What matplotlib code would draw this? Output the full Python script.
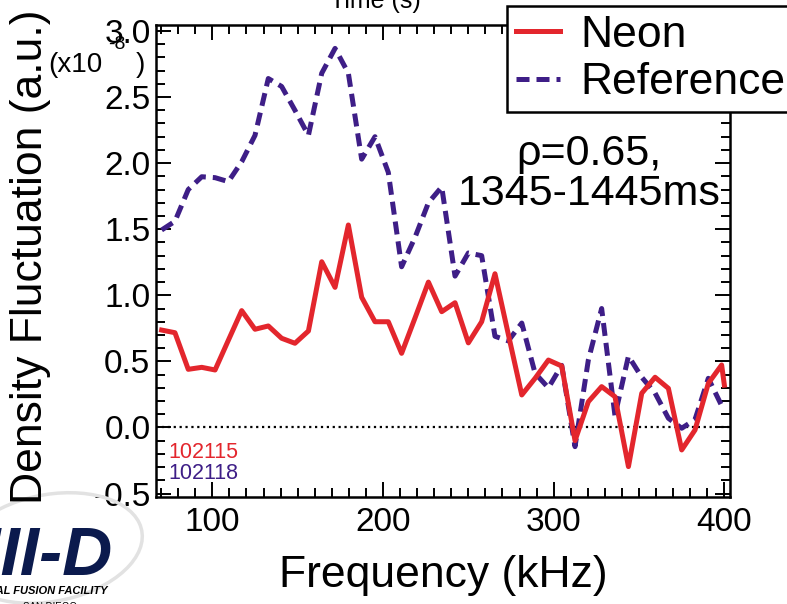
import matplotlib
matplotlib.use('Agg')
import matplotlib.pyplot as plt
from matplotlib.ticker import MultipleLocator, FormatStrFormatter
from matplotlib.patches import Ellipse

plt.rcParams['font.family'] = ['Liberation Sans', 'DejaVu Sans']
plt.rcParams['axes.unicode_minus'] = False

# spectrum frequencies (kHz)
freq = [70.3, 78.1, 85.9, 93.8, 101.6, 109.4, 117.2, 125.0, 132.8, 140.6,
        148.4, 156.3, 164.1, 171.9, 179.7, 187.5, 195.3, 203.1, 210.9, 218.8,
        226.6, 234.4, 242.2, 250.0, 257.8, 265.6, 273.4, 281.3, 289.1, 296.9,
        304.7, 312.5, 320.3, 328.1, 335.9, 343.8, 351.6, 359.4, 367.2, 375.0,
        382.8, 390.6, 398.4]
neon_freq = freq + [400.0]

# density fluctuation (x1e-8 a.u.)
neon = [0.737, 0.717, 0.44, 0.455, 0.435, 0.66, 0.884, 0.743, 0.768, 0.675,
        0.637, 0.73, 1.254, 1.06, 1.532, 0.985, 0.80, 0.80, 0.561, 0.83,
        1.10, 0.876, 0.944, 0.64, 0.80, 1.163, 0.706, 0.246, 0.372, 0.51,
        0.465, -0.10, 0.195, 0.309, 0.233, -0.296, 0.259, 0.38, 0.296, -0.17,
        -0.019, 0.334, 0.473, 0.32]
reference = [1.494, 1.56, 1.80, 1.897, 1.89, 1.86, 2.01, 2.21, 2.64, 2.58,
             2.40, 2.21, 2.68, 2.868, 2.68, 2.03, 2.20, 1.93, 1.216, 1.44,
             1.70, 1.82, 1.145, 1.32, 1.30, 0.69, 0.655, 0.79, 0.41, 0.30,
             0.47, -0.145, 0.51, 0.90, 0.09, 0.54, 0.38, 0.26, 0.07, -0.006,
             0.06, 0.372, 0.165]

red = '#e3262d'
purple = '#3e1e87'
W, H = 787, 604

fig = plt.figure(figsize=(W / 100, H / 100), dpi=100)
ax = fig.add_axes([156 / W, 1 - 497 / H, (730 - 156) / W, (497 - 25) / H])

ax.axhline(0, color='k', ls=':', lw=1.6, zorder=1)
ln1, = ax.plot(neon_freq, neon, color=red, lw=3.6, zorder=3, label='Neon')
ln2, = ax.plot(freq, reference, color=purple, lw=3.6, dashes=(2.6, 1.4),
               zorder=2, label='Reference')

ax.set_xlim(67, 403.3)
ax.set_ylim(-0.526, 3.045)
ax.xaxis.set_major_locator(MultipleLocator(100))
ax.xaxis.set_minor_locator(MultipleLocator(10))
ax.yaxis.set_major_locator(MultipleLocator(0.5))
ax.yaxis.set_minor_locator(MultipleLocator(0.1))
ax.yaxis.set_major_formatter(FormatStrFormatter('%.1f'))
ax.tick_params(which='both', direction='in', top=True, right=True,
               width=1.4, labelsize=24)
ax.tick_params(which='major', length=11)
ax.tick_params(which='minor', length=6.5)
ax.tick_params(axis='x', pad=7)
ax.tick_params(axis='y', pad=4)
for s in ax.spines.values():
    s.set_linewidth(1.8)

ax.set_xlabel('Frequency (kHz)', fontsize=32)
ax.xaxis.set_label_coords(0.5, -0.122)
fig.text(31 / W, 1 - 257 / H, 'Density Fluctuation (a.u.)', fontsize=32,
         rotation=90, ha='center', va='center')

# exponent note
fig.text(48 / W, 1 - 72 / H, '(x10', fontsize=20, ha='left', va='baseline')
fig.text(108 / W, 1 - 49 / H, '-8', fontsize=14, ha='left', va='baseline')
fig.text(136 / W, 1 - 72 / H, ')', fontsize=20, ha='left', va='baseline')

# cut-off title from the slide
fig.text(375 / W, 1 - 8 / H, 'Time (s)', fontsize=18, ha='center', va='baseline')

ax.text(0.754, 0.685, 'ρ=0.65,\n1345-1445ms', fontsize=31,
        ha='center', va='center', linespacing=1.0, transform=ax.transAxes)
fig.text(168 / W, 1 - 458 / H, '102115', color=red, fontsize=15.5)
fig.text(168 / W, 1 - 479 / H, '102118', color=purple, fontsize=15.5)

leg = fig.legend([ln1, ln2], ['Neon', 'Reference'], loc='upper left',
                 bbox_to_anchor=(507 / W, 1 - 6 / H), fontsize=32,
                 frameon=True, fancybox=False, edgecolor='k', framealpha=1,
                 borderpad=0.2, handlelength=1.0, handletextpad=0.45,
                 labelspacing=0.14, borderaxespad=0)
leg.get_frame().set_linewidth(1.8)

# DIII-D logo (partly off the slide)
fig.patches.append(Ellipse((50 / W, 1 - 548 / H), 190 / W, 105 / H, angle=20,
                           fill=False, edgecolor='#e2e2e2', lw=2.5,
                           transform=fig.transFigure, zorder=0))
fig.text(113 / W, 1 - 575 / H, 'DIII-D', fontsize=50, fontweight='bold',
         fontstyle='italic', color='#0b1a4d', ha='right', va='baseline')
fig.text(107 / W, 1 - 594 / H, 'NATIONAL FUSION FACILITY', fontsize=8,
         fontweight='bold', fontstyle='italic', ha='right', va='baseline')
fig.text(50 / W, 1 - 610 / H, 'SAN DIEGO', fontsize=7, ha='center',
         va='baseline')

fig.savefig('out.png', dpi=100)
